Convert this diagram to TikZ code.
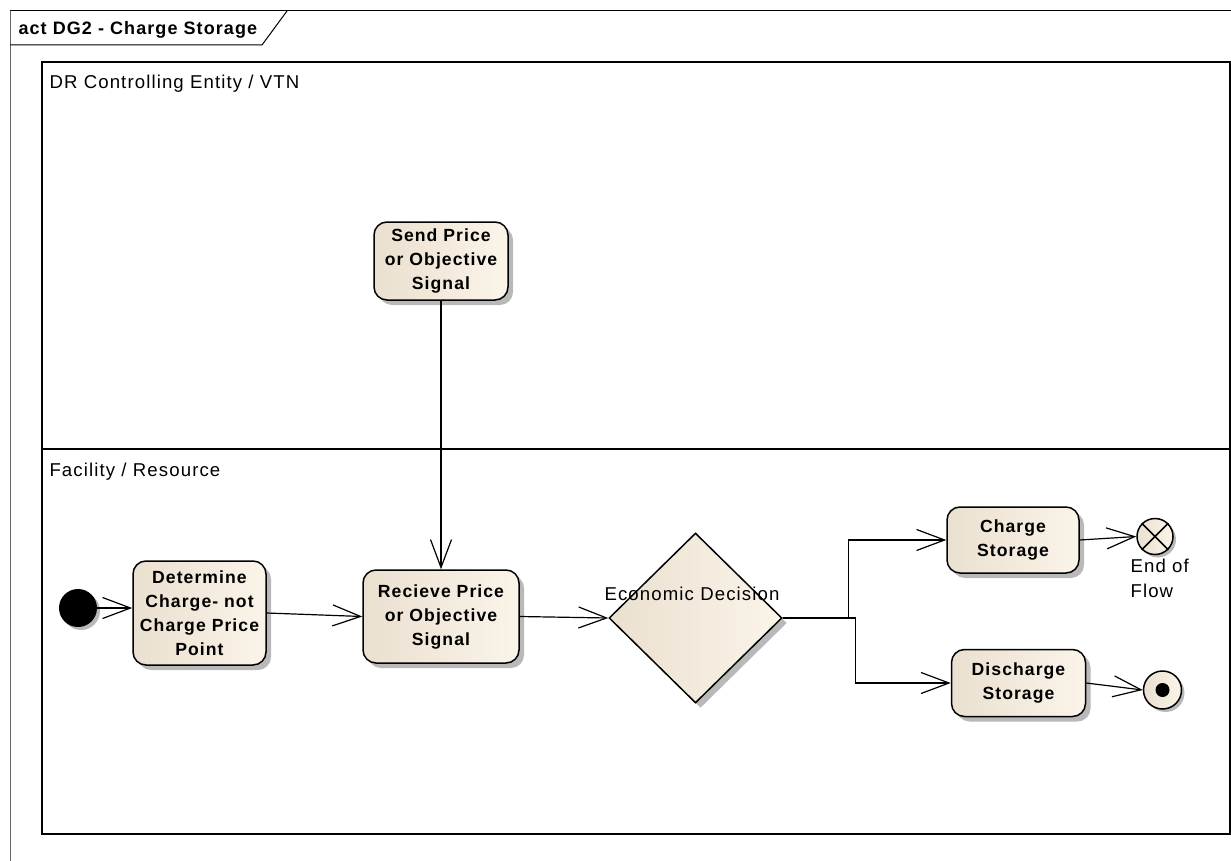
\documentclass[tikz,border=0pt]{standalone}
\usepackage{fontspec}
\setmainfont{Liberation Sans}[LetterSpace=6]
\usetikzlibrary{arrows.meta,shapes.geometric,shadows}

\definecolor{fillL}{RGB}{234,224,208}
\definecolor{fillR}{RGB}{251,244,233}
\definecolor{shade}{RGB}{185,185,185}

\tikzset{
  txt/.style={font=\fontsize{18.6}{25}\selectfont},
  boxshadow/.style={drop shadow={shadow xshift=5pt,shadow yshift=-5pt,fill=shade,opacity=1}},
  action/.style={draw,line width=1.5pt,rounded corners=13pt,left color=fillL,right color=fillR,
    boxshadow,align=center,inner sep=0pt,font=\bfseries\fontsize{17.6}{24}\selectfont},
  flow/.style={line width=1.2pt,-{Straight Barb[length=28pt,width=21pt,line width=1.2pt]}},
  lane/.style={line width=1.6pt},
}

\begin{document}
\begin{tikzpicture}[x=1pt,y=-1pt]
\useasboundingbox (0,0) rectangle (1231,861);

% diagram frame and title tab
\draw[line width=1pt,black!60] (10,861) -- (10,11) -- (1231,11);
\draw[line width=1pt] (10,11) -- (1231,11);
\draw[line width=1pt] (10,45) -- (262,45) -- (287,11);
\node[anchor=west,font=\bfseries\fontsize{18}{20}\selectfont] (title) at (15,29.5) {act DG2 - Charge Storage};

% swimlanes
\draw[lane] (42,62) rectangle (1230,834);
\draw[lane] (42,449) -- (1230,449);
\node[txt,anchor=west] (lane1) at (46,84) {DR Controlling Entity / VTN};
\node[txt,anchor=west] (lane2) at (46,472) {Facility / Resource};

% actions
\node[action,minimum width=134pt,minimum height=78pt] (send) at (441,261) {Send Price\\or Objective\\Signal};
\node[action,minimum width=133pt,minimum height=104pt] (det) at (199.5,613) {Determine\\Charge- not\\Charge Price\\Point};
\node[action,minimum width=156pt,minimum height=93pt] (rec) at (441,616.5) {Recieve Price\\or Objective\\Signal};
\node[action,minimum width=132pt,minimum height=66pt] (charge) at (1013,540) {Charge\\Storage};
\node[action,minimum width=134pt,minimum height=67pt] (dis) at (1018.5,683) {Discharge\\Storage};

% decision
\node[diamond,draw,line width=1.5pt,left color=fillL,right color=fillR,boxshadow,
      minimum width=173pt,minimum height=170pt,inner sep=0pt] (dec) at (695.5,618) {};
\node[txt] (declabel) at (692,594) {Economic Decision};

% initial and final nodes
\node[circle,fill=black,minimum size=38pt,inner sep=0pt,
      drop shadow={shadow xshift=3pt,shadow yshift=-3pt,fill=shade,opacity=1}] (init) at (78,608) {};
\node[circle,draw,line width=1.5pt,left color=fillL,right color=fillR,minimum size=36pt,inner sep=0pt,
      drop shadow={shadow xshift=3pt,shadow yshift=-3pt,fill=shade,opacity=1}] (ff) at (1155,536.5) {};
\draw[line width=1.5pt] (ff.45) -- (ff.225) (ff.135) -- (ff.315);
\node[txt,anchor=north west,align=left] (fflabel) at (1127,555) {End of\\Flow};
\node[circle,draw,line width=1.5pt,left color=fillL,right color=fillR,minimum size=38pt,inner sep=0pt,
      drop shadow={shadow xshift=3pt,shadow yshift=-3pt,fill=shade,opacity=1}] (fin) at (1162.5,690) {};
\node[circle,fill=black,minimum size=14pt,inner sep=0pt] (findot) at (fin.center) {};

% control flows
\draw[flow] (init.east) -- (det.west |- init.east);
\draw[flow] (det.east) -- (rec.west);
\draw[flow] (send.south) -- (rec.north);
\draw[flow] (rec.east) -- (dec.west);
\draw[flow] (dec.east) -- ++(66,0) |- (charge.west);
\draw[flow] (dec.east) -- ++(73,0) |- (dis.west);
\draw[flow] (charge.east) -- (ff.west);
\draw[flow] (dis.east) -- (fin.west);
\end{tikzpicture}
\end{document}
